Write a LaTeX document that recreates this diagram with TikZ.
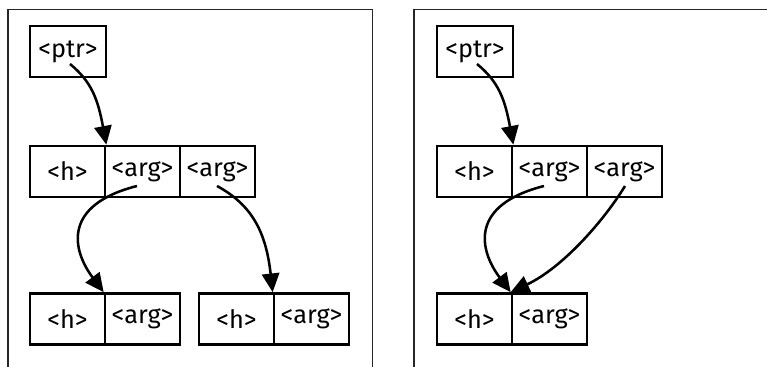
\documentclass[tikz,border=0pt]{standalone}
\usepackage{fontspec}
\setmainfont{Fira Sans}
\usetikzlibrary{arrows.meta}
\begin{document}
\begin{tikzpicture}[x=0.75pt,y=-0.75pt,
  cell/.style={draw, line width=2pt, minimum height=38.25pt, inner sep=0pt,
    font=\fontsize{19}{22}\selectfont},
  wide/.style={cell, minimum width=56.25pt},
  frame/.style={draw=black!85, line width=0.9pt},
  link/.style={line width=1.9pt, -{Triangle[length=14pt,width=13pt]}}]
\useasboundingbox (0,0) rectangle (767,367);

% panel frames (open at the bottom)
\draw[frame] (8,367) -- (8,9.5) -- (372.5,9.5) -- (372.5,367);
\draw[frame] (414,367) -- (414,9.5) -- (767,9.5);

% ---- left panel: two separate cells ----
\node[wide, minimum width=57pt] (Lp) at (68,51.5) {<ptr>};
\node[wide] (Lh)  at (67.5,171.5) {<h>};
\node[wide] (La1) at (142.5,171.5) {<arg>};
\node[wide] (La2) at (217.5,171.5) {<arg>};
\node[wide] (Lbh) at (67.5,319) {<h>};
\node[wide] (Lba) at (142.5,319) {<arg>};
\node[wide] (Lch) at (236.5,319) {<h>};
\node[wide] (Lca) at (311.5,319) {<arg>};

\coordinate (Lps)  at (70,64);
\coordinate (La1s) at (137,186);
\coordinate (La2s) at (217,186);

\draw[link] (Lps) .. controls (92,82) and (98,100) .. (Lh.north east);
\draw[link] (La1s) .. controls (62,205) and (72,250) .. (Lba.north west);
\draw[link] (La2s) .. controls (252,205) and (266,232) .. (Lca.north west);

% ---- right panel: shared cell ----
\node[wide, minimum width=57pt] (Rp) at (475,51.5) {<ptr>};
\node[wide] (Rh)  at (474.5,171.5) {<h>};
\node[wide] (Ra1) at (549.5,171.5) {<arg>};
\node[wide] (Ra2) at (624.5,171.5) {<arg>};
\node[wide] (Rbh) at (474.5,319) {<h>};
\node[wide] (Rba) at (549.5,319) {<arg>};

\coordinate (Rps)  at (477,64);
\coordinate (Ra1s) at (544,186);
\coordinate (Ra2s) at (625,186);

\draw[link] (Rps) .. controls (499,82) and (505,100) .. (Rh.north east);
\draw[link] (Ra1s) .. controls (469,205) and (479,250) .. (Rba.north west);
\draw[link] (Ra2s) .. controls (603,222) and (562,268) .. (Rba.north west);
\end{tikzpicture}
\end{document}
